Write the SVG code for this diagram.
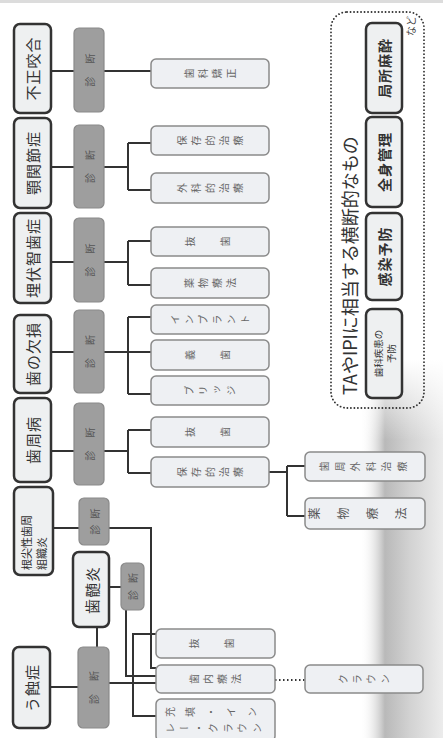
<svg xmlns="http://www.w3.org/2000/svg" width="443" height="738" viewBox="0 0 443 738">
<defs>
<linearGradient id="shade" x1="0" y1="0" x2="1" y2="0">
<stop offset="0" stop-color="#ffffff" stop-opacity="0"/>
<stop offset="0.3" stop-color="#b9b9b9"/>
<stop offset="0.6" stop-color="#d2d2d2"/>
<stop offset="1" stop-color="#ececec"/>
</linearGradient>
<linearGradient id="fadeTop" x1="0" y1="0" x2="0" y2="1">
<stop offset="0" stop-color="#ffffff"/>
<stop offset="1" stop-color="#ffffff" stop-opacity="0"/>
</linearGradient>
</defs>
<style>
text{font-family:"Noto Sans CJK JP","Noto Sans",sans-serif}
.node rect{fill:#eef0f1;stroke:#333;stroke-width:2.5}
.dx rect{fill:#9e9e9e;stroke:#8a8a8a;stroke-width:1.2}
.tx rect{fill:#eef0f3;stroke:#8a8a8a;stroke-width:1.5}
.nt{font-size:15px;fill:#333;text-anchor:middle;dominant-baseline:central;letter-spacing:1px}
.st{font-size:11px;fill:#333;text-anchor:start;dominant-baseline:central}
.dt{font-size:10px;fill:#555;text-anchor:middle;dominant-baseline:central}
.tt{writing-mode:vertical-rl;font-size:10px;fill:#666;text-anchor:middle;letter-spacing:4px}
.conn path{stroke:#333;stroke-width:2;fill:none}
.dot{stroke:#333;stroke-width:1.8;fill:none;stroke-dasharray:0.1 3.4;stroke-linecap:round}
</style>
<rect x="0" y="0" width="443" height="738" fill="#fff"/>
<rect x="0" y="0" width="443" height="3" fill="#dcdcdc"/>
<rect x="360" y="360" width="83" height="378" fill="url(#shade)"/>
<rect x="360" y="360" width="83" height="80" fill="url(#fadeTop)"/>

<g class="conn">
<path d="M51 71H74M104 71H152"/>
<path d="M51 167H74M104 167H128M128 143V190M128 143H152M128 190H152"/>
<path d="M51 262H74M104 262H128M128 241V285M128 241H152M128 285H152"/>
<path d="M51 352H74M104 352H152M128 317V394M128 317H152M128 394H152"/>
<path d="M51 451H74M104 451H128M128 430V473M128 430H152M128 473H152"/>
<path d="M269 472H287M287 466V516M287 466H305M287 516H305"/>
<path d="M53 528H79M109 528H151V668H156"/>
<path d="M109 587H121M126 610V676H156"/>
<path d="M97 627V647"/>
<path d="M50 687H78M109 683H156"/>
<path d="M156 634H133V716H156"/>
<path d="M275 680H305" stroke-dasharray="1.5 2.5"/>
</g>

<g id="n-fusei" class="node"><rect x="14" y="24" width="37" height="89" rx="6"/><text class="nt" transform="translate(32.5,68.5) rotate(-90)">不正咬合</text></g>
<g id="n-gaku" class="node"><rect x="14" y="118" width="37" height="90" rx="6"/><text class="nt" transform="translate(32.5,163) rotate(-90)">顎関節症</text></g>
<g id="n-maifuku" class="node"><rect x="14" y="213" width="37" height="90" rx="6"/><text class="nt" transform="translate(32.5,258) rotate(-90)">埋伏智歯症</text></g>
<g id="n-kesson" class="node"><rect x="14" y="315" width="37" height="78" rx="6"/><text class="nt" transform="translate(32.5,354) rotate(-90)">歯の欠損</text></g>
<g id="n-shishu" class="node"><rect x="14" y="398" width="37" height="84" rx="6"/><text class="nt" transform="translate(32.5,440) rotate(-90)">歯周病</text></g>
<g id="n-konsen" class="node"><rect x="14" y="487" width="39" height="88" rx="6"/><text class="st" transform="translate(26,570) rotate(-90)">根尖性歯周</text><text class="st" transform="translate(41,570) rotate(-90)">組織炎</text></g>
<g id="n-shizui" class="node"><rect x="73" y="552" width="36" height="75" rx="6"/><text class="nt" transform="translate(91,590) rotate(-90)">歯髄炎</text></g>
<g id="n-ushoku" class="node"><rect x="13" y="647" width="37" height="81" rx="6"/><text class="nt" transform="translate(31.5,688) rotate(-90)">う蝕症</text></g>

<g id="d1" class="dx"><rect x="74" y="28" width="30" height="84" rx="5"/><text class="dt" transform="translate(89,70) rotate(-90)" x="-11.5 11.5">診断</text></g>
<g id="d2" class="dx"><rect x="74" y="125" width="30" height="83" rx="5"/><text class="dt" transform="translate(89,166.5) rotate(-90)" x="-11.5 11.5">診断</text></g>
<g id="d3" class="dx"><rect x="74" y="218" width="30" height="84" rx="5"/><text class="dt" transform="translate(89,260) rotate(-90)" x="-11.5 11.5">診断</text></g>
<g id="d4" class="dx"><rect x="74" y="310" width="30" height="83" rx="5"/><text class="dt" transform="translate(89,351.5) rotate(-90)" x="-11.5 11.5">診断</text></g>
<g id="d5" class="dx"><rect x="74" y="403" width="30" height="82" rx="5"/><text class="dt" transform="translate(89,444) rotate(-90)" x="-11.5 11.5">診断</text></g>
<g id="d6" class="dx"><rect x="79" y="498" width="30" height="47" rx="5"/><text class="dt" transform="translate(94,521.5) rotate(-90)" x="-8 8">診断</text></g>
<g id="d7" class="dx"><rect x="121" y="563" width="23" height="47" rx="5"/><text class="dt" transform="translate(132.5,586.5) rotate(-90)" x="-8.5 8.5">診断</text></g>
<g id="d8" class="dx"><rect x="78" y="647" width="31" height="81" rx="5"/><text class="dt" transform="translate(93.5,687.5) rotate(-90)" x="-11.5 11.5">診断</text></g>

<g id="t1" class="tx"><rect x="151" y="59" width="118" height="29" rx="5"/><text class="tt" transform="translate(212,73.5) rotate(-90)">歯科矯正</text></g>
<g id="t2a" class="tx"><rect x="151" y="126" width="118" height="29" rx="5"/><text class="tt" transform="translate(212,140.5) rotate(-90)">保存的治療</text></g>
<g id="t2b" class="tx"><rect x="151" y="173" width="118" height="30" rx="5"/><text class="tt" transform="translate(212,188) rotate(-90)">外科的治療</text></g>
<g id="t3a" class="tx"><rect x="151" y="227" width="118" height="29" rx="5"/><text class="tt" transform="translate(210,241.5) rotate(-90)" y="-17.5 17.5">抜歯</text></g>
<g id="t3b" class="tx"><rect x="151" y="268" width="118" height="30" rx="5"/><text class="tt" transform="translate(212,283) rotate(-90)">薬物療法</text></g>
<g id="t4a" class="tx"><rect x="151" y="305" width="118" height="29" rx="5"/><text class="tt" transform="translate(212,319.5) rotate(-90)">インプラント</text></g>
<g id="t4b" class="tx"><rect x="151" y="340" width="118" height="30" rx="5"/><text class="tt" transform="translate(210,355) rotate(-90)" y="-17.5 17.5">義歯</text></g>
<g id="t4c" class="tx"><rect x="151" y="376" width="118" height="29" rx="5"/><text class="tt" transform="translate(212,390.5) rotate(-90)">ブリッジ</text></g>
<g id="t5a" class="tx"><rect x="151" y="417" width="118" height="30" rx="5"/><text class="tt" transform="translate(210,432) rotate(-90)" y="-17.5 17.5">抜歯</text></g>
<g id="t5b" class="tx"><rect x="151" y="457" width="118" height="30" rx="5"/><text class="tt" transform="translate(212,472) rotate(-90)">保存的治療</text></g>
<g id="t5c" class="tx"><rect x="305" y="452" width="120" height="29" rx="5"/><text class="tt" transform="translate(366,466.5) rotate(-90)" style="letter-spacing:5.5px">歯周外科治療</text></g>
<g id="t5d" class="tx"><rect x="305" y="498" width="120" height="31" rx="5"/><text class="tt" transform="translate(366,513.5) rotate(-90)" style="letter-spacing:17px;font-size:12px;fill:#555">薬物療法</text></g>
<g id="t8a" class="tx"><rect x="156" y="629" width="119" height="29" rx="5"/><text class="tt" transform="translate(214,643.5) rotate(-90)" y="-17.5 17.5">抜歯</text></g>
<g id="t8b" class="tx"><rect x="156" y="665" width="119" height="28" rx="5"/><text class="tt" transform="translate(217,679) rotate(-90)">歯内療法</text></g>
<g id="t8c" class="tx"><rect x="156" y="699" width="119" height="42" rx="5"/><text class="tt" transform="translate(165,712) rotate(-90)" style="text-anchor:start;letter-spacing:10.5px">充填・イン</text><text class="tt" transform="translate(165,728) rotate(-90)" style="text-anchor:start;letter-spacing:4.5px">レー・クラウン</text></g>
<g id="t8d" class="tx"><rect x="305" y="665" width="118" height="28" rx="5"/><text class="tt" transform="translate(366,679) rotate(-90)">クラウン</text></g>

<g id="cross">
<rect class="dot" x="331" y="12" width="93" height="396" rx="16"/>
<text transform="translate(349,395) rotate(-90)" style="font-size:18px;fill:#333;dominant-baseline:central">TAやIPIに相当する横断的なもの</text>
<text transform="translate(410,36) rotate(-90)" style="font-size:10px;fill:#444;dominant-baseline:central">など</text>
<g id="c1" class="node"><rect x="366" y="23" width="36" height="90" rx="6"/><text class="nt" transform="translate(384,68) rotate(-90)" style="font-weight:bold;font-size:14px">局所麻酔</text></g>
<g id="c2" class="node"><rect x="366" y="117" width="36" height="90" rx="6"/><text class="nt" transform="translate(384,162) rotate(-90)" style="font-weight:bold;font-size:14px">全身管理</text></g>
<g id="c3" class="node"><rect x="366" y="213" width="36" height="87" rx="6"/><text class="nt" transform="translate(384,256.5) rotate(-90)" style="font-weight:bold;font-size:14px">感染予防</text></g>
<g id="c4" class="node"><rect x="366" y="309" width="36" height="89" rx="6"/><text class="dt" transform="translate(378,353.5) rotate(-90)" style="fill:#333;font-size:9.5px">歯科疾患の</text><text class="dt" transform="translate(391,353.5) rotate(-90)" style="fill:#333;font-size:9.5px">予防</text></g>
</g>
</svg>
